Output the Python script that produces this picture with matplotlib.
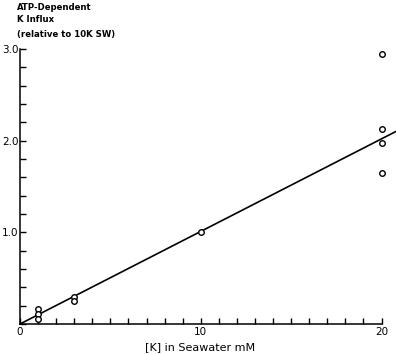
import matplotlib
matplotlib.use("Agg")
import matplotlib.pyplot as plt
import numpy as np

# Data
k_mM = [1, 1, 1, 3, 3, 10, 20, 20, 20, 20]
influx = [0.16, 0.11, 0.06, 0.29, 0.25, 1.0, 2.95, 2.13, 1.97, 1.65]
fit_x = [0, 20.8]
fit_slope = 0.101

x_tick_labels = {0: "0", 10: "10", 20: "20"}
y_tick_labels = {1.0: "1.0", 2.0: "2.0", 3.0: "3.0"}

plt.rcParams['font.family'] = ['DejaVu Sans']

fig = plt.figure(figsize=(3.96, 3.55), dpi=100)
ax = fig.add_axes([20/396, 31/355, 376/396, 275/355])

fx = np.array(fit_x)
ax.plot(fx, fit_slope * fx, color='black', lw=1.2, clip_on=False, zorder=2)
ax.plot(k_mM, influx, 'o', mfc='white', mec='black', ms=4, mew=1.0,
        clip_on=False, zorder=3)

ax.set_xlim(0, 20.8)
ax.set_ylim(0, 3.0)
for s in ['top', 'right']:
    ax.spines[s].set_visible(False)
ax.spines['bottom'].set_bounds(0, 20)
ax.spines['left'].set_bounds(0, 3.0)
for s in ['bottom', 'left']:
    ax.spines[s].set_linewidth(1.1)

ax.set_xticks(np.arange(0, 21, 1))
ax.set_xticklabels([x_tick_labels.get(int(v), "") for v in np.arange(0, 21, 1)])
yt = np.round(np.arange(0, 3.01, 0.2), 1)
ax.set_yticks(yt)
ax.set_yticklabels([y_tick_labels.get(round(v, 1), "") for v in yt])
ax.tick_params(axis='x', direction='in', length=4, width=1, pad=2, labelsize=7.5)
ax.tick_params(axis='y', direction='in', length=4, width=1, pad=1, labelsize=7.5)

tkw = dict(fontsize=6.8, fontweight='bold', fontstretch='condensed', va='center')
fig.text(17/396, 1 - 7/355, "ATP-Dependent", **tkw)
fig.text(17/396, 1 - 20/355, "K Influx", **tkw)
fig.text(17/396, 1 - 34/355, "(relative to 10K SW)", **tkw)

fig.text(145/396, 1 - 347/355, "[K] in Seawater mM", fontsize=8, va='center')

fig.savefig("out.png", dpi=100)
